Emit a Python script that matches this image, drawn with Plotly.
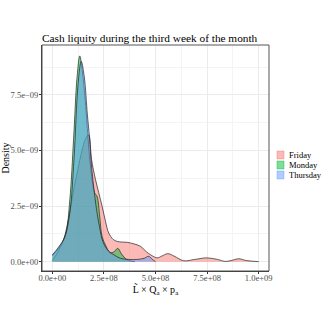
import plotly.graph_objects as go

# density curves (x in currency units, y in density)
friday_x = [0, 0.25e8, 0.55e8, 0.8e8, 1.03e8, 1.25e8, 1.44e8, 1.6e8, 1.76e8, 1.9e8,
            2.09e8, 2.25e8, 2.41e8, 2.58e8, 2.73e8, 2.95e8, 3.14e8, 3.4e8, 3.63e8,
            3.95e8, 4.27e8, 4.55e8, 4.76e8, 5.08e8, 5.3e8, 5.6e8, 5.9e8, 6.37e8,
            6.9e8, 7.5e8, 8.0e8, 8.4e8, 8.7e8, 9.04e8, 9.4e8, 1.0e9]
friday_y = [0.05e-9, 0.4e-9, 1.0e-9, 2.0e-9, 3.2e-9, 4.2e-9, 5.0e-9, 5.5e-9, 5.7e-9,
            4.6e-9, 3.7e-9, 3.1e-9, 2.5e-9, 1.8e-9, 1.29e-9, 1.0e-9, 0.91e-9, 0.88e-9,
            0.87e-9, 0.8e-9, 0.69e-9, 0.45e-9, 0.31e-9, 0.17e-9, 0.25e-9, 0.36e-9,
            0.25e-9, 0.04e-9, 0.1e-9, 0.17e-9, 0.1e-9, 0.01e-9, 0.06e-9, 0.13e-9,
            0.05e-9, 0]

monday_x = [0, 0.3e8, 0.63e8, 0.85e8, 1.03e8, 1.2e8, 1.33e8, 1.45e8, 1.6e8, 1.68e8,
            1.85e8, 2.05e8, 2.17e8, 2.3e8, 2.41e8, 2.6e8, 2.8e8, 3.0e8, 3.17e8,
            3.35e8, 3.6e8, 3.85e8, 4.0e8]
monday_y = [0.27e-9, 0.6e-9, 1.17e-9, 2.8e-9, 5.5e-9, 8.3e-9, 9.25e-9, 8.6e-9, 7.2e-9,
            6.2e-9, 4.3e-9, 3.1e-9, 2.93e-9, 2.0e-9, 1.14e-9, 0.7e-9, 0.4e-9, 0.45e-9,
            0.6e-9, 0.35e-9, 0.1e-9, 0.02e-9, 0]

thursday_x = [0, 0.3e8, 0.6e8, 0.85e8, 1.05e8, 1.25e8, 1.4e8, 1.55e8, 1.7e8, 1.8e8,
              1.9e8, 2.0e8, 2.15e8, 2.3e8, 2.45e8, 2.7e8, 3.0e8, 3.3e8, 3.7e8, 4.1e8,
              4.45e8, 4.67e8, 4.85e8, 5.0e8]
thursday_y = [0.3e-9, 0.65e-9, 1.1e-9, 2.2e-9, 4.6e-9, 8.0e-9, 9.0e-9, 8.3e-9, 6.6e-9,
              5.6e-9, 4.3e-9, 3.4e-9, 2.3e-9, 1.5e-9, 0.9e-9, 0.5e-9, 0.3e-9, 0.15e-9,
              0.1e-9, 0.1e-9, 0.15e-9, 0.24e-9, 0.1e-9, 0]

x_ticks = [0, 2.5e8, 5e8, 7.5e8, 1e9]
x_labels = ["0.0e+00", "2.5e+08", "5.0e+08", "7.5e+08", "1.0e+09"]
y_ticks = [0, 2.5e-9, 5e-9, 7.5e-9]
y_labels = ["0.0e+00", "2.5e\u221209", "5.0e\u221209", "7.5e\u221209"]

series = [
    ("Friday", friday_x, friday_y, "rgba(248,118,109,0.5)"),
    ("Monday", monday_x, monday_y, "rgba(0,186,56,0.5)"),
    ("Thursday", thursday_x, thursday_y, "rgba(97,156,255,0.5)"),
]

font = "Liberation Serif"
L, R, T, B = 42, 61, 45, 59
pw, ph = 330 - L - R, 330 - T - B

fig = go.Figure()
shapes, notes = [], []
for i, (name, xs, ys, col) in enumerate(series):
    fig.add_trace(go.Scatter(
        x=xs, y=ys, name=name, mode="lines", fill="tozeroy", showlegend=False,
        fillcolor=col, line=dict(color="#222222", width=0.7, shape="spline"),
    ))
    # hand-made legend key so the rows can sit tight like the original
    top = 151 + i * 10
    shapes.append(dict(type="rect", xref="paper", yref="paper",
                       x0=(277 - L) / pw, x1=(284 - L) / pw,
                       y0=(330 - B - top - 8) / ph, y1=(330 - B - top) / ph,
                       fillcolor=col, line=dict(color=col, width=0.8)))
    notes.append(dict(text=name, xref="paper", yref="paper", showarrow=False,
                      x=(287 - L) / pw, xanchor="left",
                      y=(330 - B - top - 4) / ph, yanchor="middle",
                      font=dict(family=font, size=8.5, color="black")))

shapes.append(dict(type="rect", xref="paper", yref="paper", x0=0, x1=1, y0=0, y1=1,
                   line=dict(color="#555555", width=1), layer="above"))

axis_common = dict(
    showline=True, linecolor="#333333", linewidth=1, mirror=False,
    ticks="outside", ticklen=2, tickcolor="#333333", automargin=False,
    showgrid=True, gridcolor="#EBEBEB", gridwidth=1, zeroline=False,
    tickfont=dict(family=font, size=8.5, color="#4D4D4D"),
)

fig.update_layout(
    width=330, height=330,
    margin=dict(l=L, r=R, t=T, b=B),
    paper_bgcolor="white", plot_bgcolor="white",
    font=dict(family=font, color="black"),
    title=dict(text="Cash liquity during the third week of the month",
               xref="paper", x=0, xanchor="left",
               yref="container", y=1 - 42 / 330, yanchor="bottom",
               font=dict(family=font, size=11.3, color="black")),
    showlegend=False,
    shapes=shapes,
    annotations=notes,
)
fig.update_xaxes(
    **axis_common, range=[-0.05e9, 1.05e9], ticklabelstandoff=-3,
    tickmode="array", tickvals=x_ticks, ticktext=x_labels,
    minor=dict(tickvals=[1.25e8, 3.75e8, 6.25e8, 8.75e8], showgrid=True,
               gridcolor="#F4F4F4", ticks=""),
    title=dict(text="L\u0303 \u00d7 Q<sub>a</sub> \u00d7 p<sub>a</sub>",
               font=dict(family=font, size=10), standoff=2),
)
fig.update_yaxes(
    **axis_common, range=[-0.42e-9, 9.74e-9], ticklabelstandoff=-1,
    tickmode="array", tickvals=y_ticks, ticktext=y_labels,
    minor=dict(tickvals=[1.25e-9, 3.75e-9, 6.25e-9, 8.75e-9], showgrid=True,
               gridcolor="#F4F4F4", ticks=""),
    title=dict(text="Density", font=dict(family=font, size=10), standoff=3),
)

# drop the browser's default 8px body margin so the 330px figure fills the window
fig.write_html("out.html", config={"displayModeBar": False},
               post_script="document.body.style.margin='0';")
